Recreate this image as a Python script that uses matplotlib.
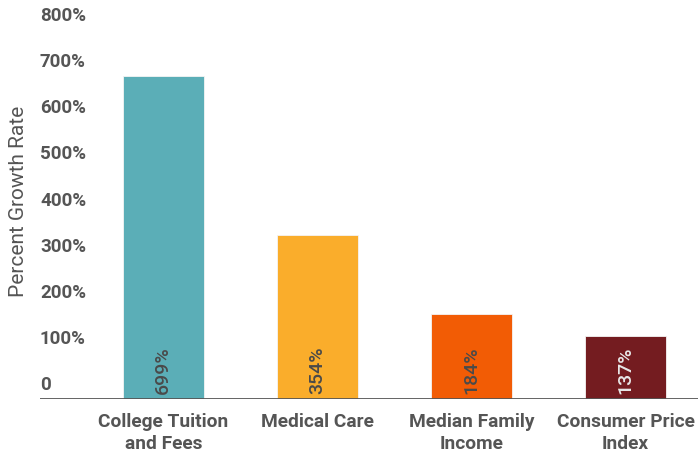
import matplotlib.pyplot as plt
import matplotlib.transforms as mtransforms

categories = ['College Tuition\nand Fees', 'Medical Care', 'Median Family\nIncome', 'Consumer Price\nIndex']
growth = [699, 354, 184, 137]
labels = ['699%', '354%', '184%', '137%']
colors = ['#5BAEB7', '#FAAD2B', '#F25C05', '#741C20']
label_colors = ['#4a4a4a', '#4a4a4a', '#4a4a4a', '#E8E8E8']
yticks = [0, 100, 200, 300, 400, 500, 600, 700, 800]
ytick_labels = ['0', '100%', '200%', '300%', '400%', '500%', '600%', '700%', '800%']

plt.rcParams['font.family'] = ['Roboto', 'DejaVu Sans']

fig = plt.figure(figsize=(6.98, 4.56), dpi=100)
ax = fig.add_axes([0.0573, 0.1228, 0.9427, 0.811])

x = list(range(len(categories)))
ax.bar(x, growth, width=0.525, color=colors, edgecolor='#f4f4f4', linewidth=0.6, zorder=2)

for xi, lab, c in zip(x, labels, label_colors):
    ax.annotate(lab, (xi, 0), xytext=(0, 4), textcoords='offset points',
                rotation=90, ha='center', va='bottom', fontsize=14, fontweight='medium',
                color=c, zorder=3)

ax.set_xlim(-0.8, 3.47)
ax.set_ylim(0, 790)
ax.axhline(0, color='#555555', lw=2, zorder=4)

for s in ax.spines.values():
    s.set_visible(False)

ax.set_yticks(yticks)
ax.set_yticklabels([])
ax.tick_params(axis='y', length=0)
trans = mtransforms.blended_transform_factory(ax.transAxes, ax.transData)
for v, t in zip(yticks, ytick_labels):
    ax.annotate(t, (0, v), xycoords=trans, xytext=(0, 4), textcoords='offset points',
                ha='left', va='bottom', fontsize=13.5, fontweight='bold', color='#555555')

ax.set_xticks(x)
ax.set_xticklabels(categories, fontsize=13.8, fontweight='bold', color='#555555', linespacing=1.35)
ax.tick_params(axis='x', length=0, pad=9)

fig.text(0.026, 0.559, 'Percent Growth Rate', rotation=90, ha='center', va='center',
         fontsize=15, color='#555555')

fig.savefig('out.png', dpi=100)
